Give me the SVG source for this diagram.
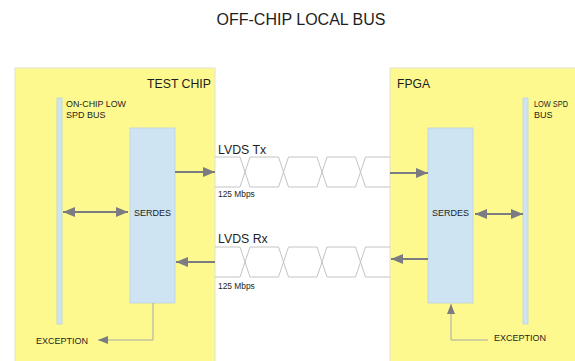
<svg xmlns="http://www.w3.org/2000/svg" width="575" height="361" viewBox="0 0 575 361">
<style>
text{font-family:"Liberation Sans",Arial,sans-serif;fill:#1e1e1e}
.chip{fill:#fdf98e;stroke:#e2e2d0;stroke-width:1}
.bus{fill:#cfe4f2;stroke:#b8d2e4;stroke-width:0.8}
.ser{fill:#cfe4f2;stroke:#b8d2e4;stroke-width:0.8}
.arr{stroke:#7b7b82;stroke-width:2;fill:none}
.thin{stroke:#a8a8a8;stroke-width:1;fill:none}
.wave{stroke:#c4c4c4;stroke-width:1;fill:none}
.lbl{font-size:9px}
</style>
<defs>
<marker id="ah" viewBox="0 0 12 10" refX="12" refY="5" markerWidth="12" markerHeight="10" orient="auto-start-reverse" markerUnits="userSpaceOnUse"><path d="M0,0L12,5L0,10z" fill="#7b7b82"/></marker>
<marker id="ahs" viewBox="0 0 10 8" refX="10" refY="4" markerWidth="10" markerHeight="8" orient="auto-start-reverse" markerUnits="userSpaceOnUse"><path d="M0,0L10,4L0,8z" fill="#7b7b82"/></marker>
</defs>
<rect width="575" height="361" fill="#fff"/>
<text x="301" y="25" font-size="16" text-anchor="middle">OFF-CHIP LOCAL BUS</text>

<g id="test-chip">
<rect class="chip" x="15" y="68" width="200" height="300"/>
<text x="211" y="88" font-size="13" text-anchor="end" textLength="64" lengthAdjust="spacingAndGlyphs">TEST CHIP</text>
</g>
<g id="onchip-bus">
<rect class="bus" x="57" y="98" width="5" height="226"/>
<text class="lbl" x="66" y="107" textLength="60" lengthAdjust="spacingAndGlyphs">ON-CHIP LOW</text>
<text class="lbl" x="66" y="118">SPD BUS</text>
</g>
<g id="serdes-left">
<rect class="ser" x="130" y="128" width="45" height="175"/>
<text class="lbl" x="152.5" y="216" text-anchor="middle">SERDES</text>
</g>
<g id="exception-left">
<text class="lbl" x="36" y="343.5">EXCEPTION</text>
</g>

<g id="fpga">
<rect class="chip" x="390" y="68" width="200" height="300"/>
<text x="397" y="88" font-size="13" textLength="33" lengthAdjust="spacingAndGlyphs">FPGA</text>
</g>
<g id="lowspd-bus">
<rect class="bus" x="523" y="98" width="5" height="226"/>
<text class="lbl" x="534" y="107" textLength="34" lengthAdjust="spacingAndGlyphs">LOW SPD</text>
<text class="lbl" x="534" y="118">BUS</text>
</g>
<g id="serdes-right">
<rect class="ser" x="428" y="128" width="45" height="175"/>
<text class="lbl" x="450.5" y="216" text-anchor="middle">SERDES</text>
</g>
<g id="exception-right">
<text class="lbl" x="494" y="341">EXCEPTION</text>
</g>

<g id="lvds-tx">
<path class="wave" d="M215,157H240L250,187H278.5L288.5,157H317L327,187H355.5L365.5,157H390M215,187H240L250,157H278.5L288.5,187H317L327,157H355.5L365.5,187H390"/>
<text x="218" y="154" font-size="12.3">LVDS Tx</text>
<text x="218" y="197" font-size="8.4">125 Mbps</text>
</g>
<g id="lvds-rx">
<path class="wave" d="M215,247H240L250,277H278.5L288.5,247H317L327,277H355.5L365.5,247H390M215,277H240L250,247H278.5L288.5,277H317L327,247H355.5L365.5,277H390"/>
<text x="218" y="243" font-size="12.3">LVDS Rx</text>
<text x="218" y="289" font-size="8.4">125 Mbps</text>
</g>

<g id="connectors">
<line class="arr" x1="175" y1="172" x2="215" y2="172" marker-end="url(#ah)"/>
<line class="arr" x1="215" y1="262" x2="176" y2="262" marker-end="url(#ah)"/>
<line class="arr" x1="63" y1="212" x2="128" y2="212" marker-start="url(#ah)" marker-end="url(#ah)"/>
<polyline class="thin" points="153,303 153,340 98,340" marker-end="url(#ahs)"/>
<line class="arr" x1="390" y1="173" x2="428" y2="173" marker-end="url(#ah)"/>
<line class="arr" x1="428" y1="259" x2="391" y2="259" marker-end="url(#ah)"/>
<line class="arr" x1="475" y1="214" x2="523" y2="214" marker-start="url(#ah)" marker-end="url(#ah)"/>
<polyline class="thin" points="488,340 451,340 451,304" marker-end="url(#ahs)"/>
</g>
</svg>
